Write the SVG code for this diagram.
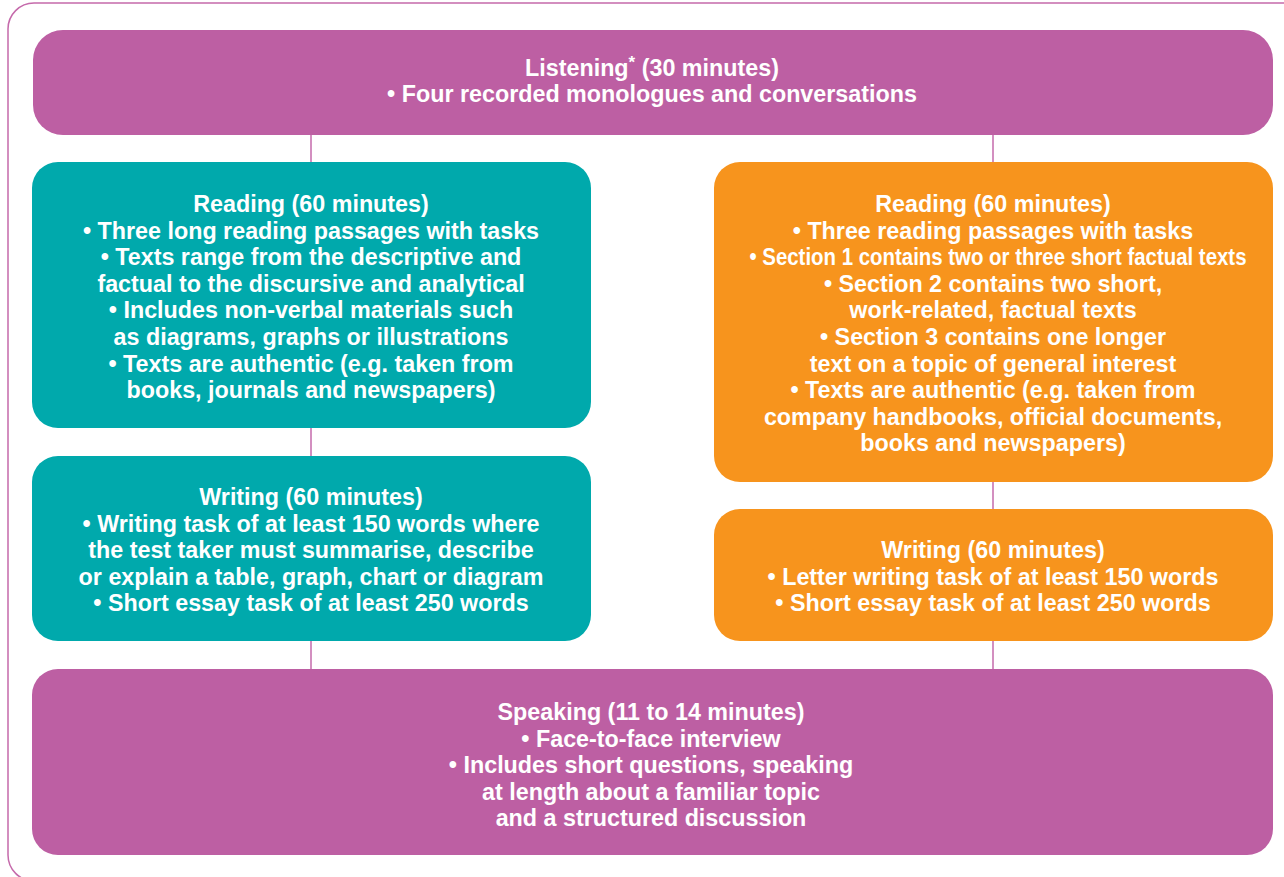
<svg xmlns="http://www.w3.org/2000/svg" width="1284" height="877" viewBox="0 0 1284 877">
<style>
.t{font-family:"Liberation Sans",Arial,sans-serif;font-weight:bold;font-size:23.3px;fill:#fff;text-anchor:middle}
.pu{fill:#BD5FA3}.te{fill:#00A9AC}.or{fill:#F7941D}
.cn{stroke:#C56AAB;stroke-width:1.5;fill:none}
</style>
<rect x="8" y="3" width="1300" height="878" rx="26" fill="#fff" stroke="#C56AAB" stroke-width="1.5"/>
<g id="connectors">
<line class="cn" x1="311" y1="135" x2="311" y2="162"/>
<line class="cn" x1="311" y1="428" x2="311" y2="456"/>
<line class="cn" x1="311" y1="641" x2="311" y2="669"/>
<line class="cn" x1="993" y1="135" x2="993" y2="162"/>
<line class="cn" x1="993" y1="482" x2="993" y2="509"/>
<line class="cn" x1="993" y1="641" x2="993" y2="669"/>
</g>
<g id="listening">
<rect class="pu" x="33" y="30" width="1240" height="105" rx="30"/>
<text class="t" x="652" y="76">Listening<tspan font-size="17" dy="-8">*</tspan><tspan dy="8"> (30 minutes)</tspan></text>
<text class="t" x="652" y="102">• Four recorded monologues and conversations</text>
</g>
<g id="reading-academic">
<rect class="te" x="32" y="162" width="559" height="266" rx="26"/>
<text class="t" x="311" y="212">Reading (60 minutes)</text>
<text class="t" x="311" y="238.6">• Three long reading passages with tasks</text>
<text class="t" x="311" y="265.2">• Texts range from the descriptive and</text>
<text class="t" x="311" y="291.8">factual to the discursive and analytical</text>
<text class="t" x="311" y="318.4">• Includes non-verbal materials such</text>
<text class="t" x="311" y="345">as diagrams, graphs or illustrations</text>
<text class="t" x="311" y="371.6">• Texts are authentic (e.g. taken from</text>
<text class="t" x="311" y="398.2">books, journals and newspapers)</text>
</g>
<g id="writing-academic">
<rect class="te" x="32" y="456" width="559" height="185" rx="26"/>
<text class="t" x="311" y="505">Writing (60 minutes)</text>
<text class="t" x="311" y="531.6">• Writing task of at least 150 words where</text>
<text class="t" x="311" y="558.2">the test taker must summarise, describe</text>
<text class="t" x="311" y="584.8">or explain a table, graph, chart or diagram</text>
<text class="t" x="311" y="611.4">• Short essay task of at least 250 words</text>
</g>
<g id="reading-general">
<rect class="or" x="714" y="162" width="559" height="320" rx="26"/>
<text class="t" x="993" y="212">Reading (60 minutes)</text>
<text class="t" x="993" y="238.6">• Three reading passages with tasks</text>
<text class="t" x="998" y="265.2" font-size="21" textLength="497" lengthAdjust="spacingAndGlyphs">• Section 1 contains two or three short factual texts</text>
<text class="t" x="993" y="291.8">• Section 2 contains two short,</text>
<text class="t" x="993" y="318.4">work-related, factual texts</text>
<text class="t" x="993" y="345">• Section 3 contains one longer</text>
<text class="t" x="993" y="371.6">text on a topic of general interest</text>
<text class="t" x="993" y="398.2">• Texts are authentic (e.g. taken from</text>
<text class="t" x="993" y="424.8">company handbooks, official documents,</text>
<text class="t" x="993" y="451.4">books and newspapers)</text>
</g>
<g id="writing-general">
<rect class="or" x="714" y="509" width="559" height="132" rx="26"/>
<text class="t" x="993" y="558">Writing (60 minutes)</text>
<text class="t" x="993" y="584.6">• Letter writing task of at least 150 words</text>
<text class="t" x="993" y="611.2">• Short essay task of at least 250 words</text>
</g>
<g id="speaking">
<rect class="pu" x="32" y="669" width="1241" height="186" rx="26"/>
<text class="t" x="651" y="720">Speaking (11 to 14 minutes)</text>
<text class="t" x="651" y="746.6">• Face-to-face interview</text>
<text class="t" x="651" y="773.2">• Includes short questions, speaking</text>
<text class="t" x="651" y="799.8">at length about a familiar topic</text>
<text class="t" x="651" y="826.4">and a structured discussion</text>
</g>
</svg>
